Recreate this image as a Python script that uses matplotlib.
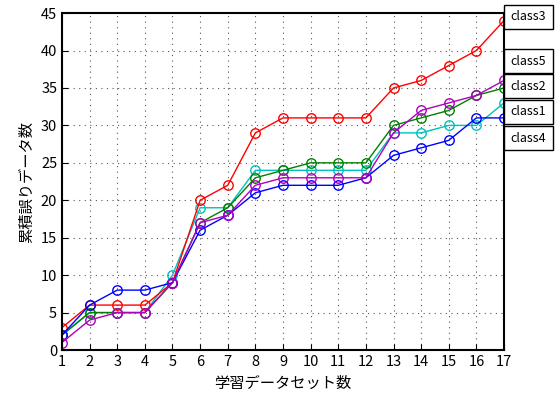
import matplotlib
matplotlib.use('Agg')
import matplotlib.pyplot as plt
from matplotlib.patches import Rectangle
from matplotlib.transforms import blended_transform_factory

plt.rcParams['font.family'] = ['Noto Sans CJK JP', 'DejaVu Sans']

sets = list(range(1, 18))
class1 = [2, 5, 5, 5, 10, 19, 19, 24, 24, 24, 24, 24, 29, 29, 30, 30, 33]
class2 = [2, 5, 5, 5, 9, 17, 19, 23, 24, 25, 25, 25, 30, 31, 32, 34, 35]
class3 = [3, 6, 6, 6, 9, 20, 22, 29, 31, 31, 31, 31, 35, 36, 38, 40, 44]
class4 = [2, 6, 8, 8, 9, 16, 18, 21, 22, 22, 22, 23, 26, 27, 28, 31, 31]
class5 = [1, 4, 5, 5, 9, 17, 18, 22, 23, 23, 23, 23, 29, 32, 33, 34, 36]

names = ['class1', 'class2', 'class3', 'class4', 'class5']
series = [class1, class2, class3, class4, class5]
colors = ['#00c0c0', '#008000', '#ff0000', '#0000ff', '#b000c0']
# label box centres (data y), nudged apart like the original
label_y = [31.8, 35.2, 44.5, 28.3, 38.6]

fig = plt.figure(figsize=(5.56, 4.03), dpi=100)
ax = fig.add_axes([0.1115, 0.1315, 0.795, 0.836])
trans = blended_transform_factory(ax.transAxes, ax.transData)

box_w = 49 / 442.0   # axes fraction
box_h = 24 / 7.49    # data units

for name, vals, c, ly in zip(names, series, colors, label_y):
    ax.plot(sets, vals, color=c, linewidth=1, marker='o', markersize=6.8,
            markerfacecolor='none', markeredgecolor=c, markeredgewidth=1)
    ax.add_patch(Rectangle((1.0, ly - box_h / 2), box_w, box_h, transform=trans,
                           facecolor='white', edgecolor='black', linewidth=1,
                           clip_on=False, zorder=5))
    ax.text(1.0 + box_w / 2, ly, name, transform=trans,
            fontsize=9, ha='center', va='center', zorder=6, clip_on=False)

ax.set_xlim(1, 17)
ax.set_ylim(0, 45)
ax.set_xticks(sets)
ax.set_yticks(range(0, 46, 5))
ax.tick_params(direction='in', labelsize=10.5, length=4)
ax.grid(True, linestyle=(0, (1, 4)), color='#555555', linewidth=0.8)
for sp in ax.spines.values():
    sp.set_linewidth(1.5)

ax.set_xlabel('学習データセット数', fontsize=11)
ax.set_ylabel('累積誤りデータ数', fontsize=11)

fig.savefig('out.png', dpi=100)
